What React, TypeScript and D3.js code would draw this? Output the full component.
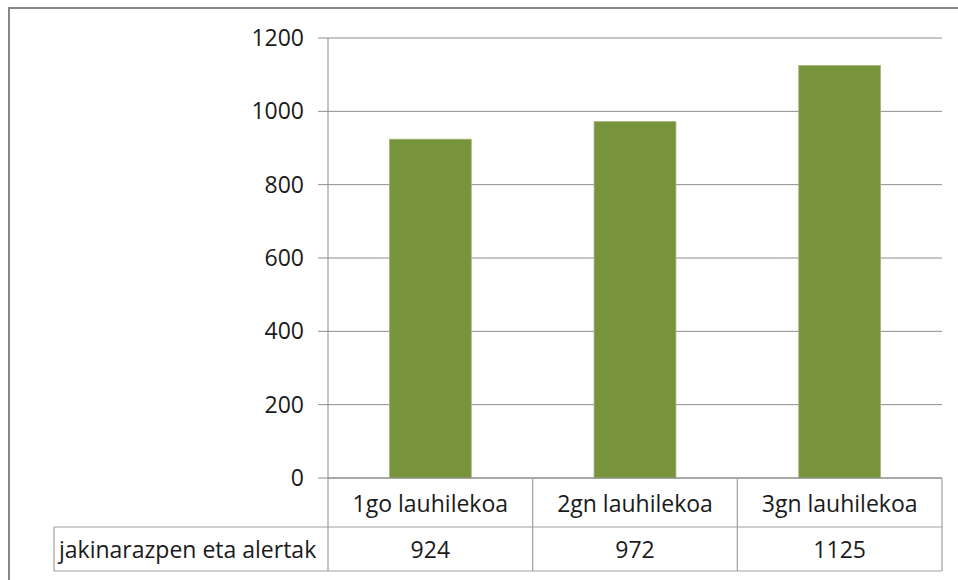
import React from 'react'
import { scaleBand, scaleLinear } from 'd3'

// chart data
const categories = ['1go lauhilekoa', '2gn lauhilekoa', '3gn lauhilekoa']
const seriesName = 'jakinarazpen eta alertak'
const values = [924, 972, 1125]
const yTicks = [0, 200, 400, 600, 800, 1000, 1200]

const W = 958
const H = 580
const plot = { left: 328, right: 942, top: 38, bottom: 478 }
const tableLeft = 54
const rowH = [49, 44]
const font = '"Open Sans", sans-serif'
const gridColor = '#8c8c8c'
const tableColor = '#a0a0a0'
const barColor = '#77933C'

const App = () => {
    const x = scaleBand<string>()
        .domain(categories)
        .range([plot.left, plot.right])
        .paddingInner(0.6)
        .paddingOuter(0.3)

    const col = scaleBand<string>()
        .domain(categories)
        .range([plot.left, plot.right])
        .padding(0)

    const y = scaleLinear().domain([0, 1200]).range([plot.bottom, plot.top])

    const row1 = plot.bottom
    const row2 = row1 + rowH[0]
    const row3 = row2 + rowH[1]

    return (
        <svg width={W} height={H} style={{ position: 'absolute', left: 0, top: 0, background: 'white' }}>
            {/* outer chart frame, cut off at right and bottom */}
            <rect x={9} y={8} width={W + 20} height={H + 20} fill="white" stroke="#868686" strokeWidth={2} />

            {/* grid lines + y ticks */}
            {yTicks.map(t => (
                <g key={t}>
                    <line x1={plot.left} x2={plot.right} y1={y(t)} y2={y(t)} stroke={gridColor} strokeWidth={1} />
                    <line x1={plot.left - 10} x2={plot.left} y1={y(t)} y2={y(t)} stroke={gridColor} strokeWidth={1} />
                    <text x={plot.left - 24} y={y(t) + 8} textAnchor="end" fontFamily={font} fontSize={23}
                        fill="#1a1a1a">{t}</text>
                </g>
            ))}

            {/* bars */}
            {values.map((v, i) => (
                <rect key={categories[i]} x={x(categories[i])} y={y(v)} width={x.bandwidth()}
                    height={y(0) - y(v)} fill={barColor} stroke="#a3b67c" strokeWidth={0.8} />
            ))}

            {/* y axis line */}
            <line x1={plot.left} x2={plot.left} y1={plot.top} y2={row3} stroke={gridColor} strokeWidth={1} />

            {/* data table */}
            <g stroke={tableColor} strokeWidth={1.2} fill="none">
                <line x1={plot.left} x2={plot.right} y1={row1} y2={row1} stroke={gridColor} />
                <line x1={tableLeft} x2={plot.right} y1={row2} y2={row2} />
                <line x1={tableLeft} x2={plot.right} y1={row3} y2={row3} />
                <line x1={tableLeft} x2={tableLeft} y1={row2} y2={row3} />
                {categories.map(c => (
                    <line key={c} x1={col(c)! + col.bandwidth()} x2={col(c)! + col.bandwidth()} y1={row1} y2={row3} />
                ))}
            </g>
            {categories.map((c, i) => (
                <g key={c} fontFamily={font} fontSize={23} fill="#1a1a1a" textAnchor="middle">
                    <text x={col(c)! + col.bandwidth() / 2} y={row1 + 34}>{c}</text>
                    <text x={col(c)! + col.bandwidth() / 2} y={row2 + 31}>{values[i]}</text>
                </g>
            ))}
            <text x={tableLeft + 5} y={row2 + 31} fontFamily={font} fontSize={23} fill="#1a1a1a">{seriesName}</text>
        </svg>
    )
}

export default App
